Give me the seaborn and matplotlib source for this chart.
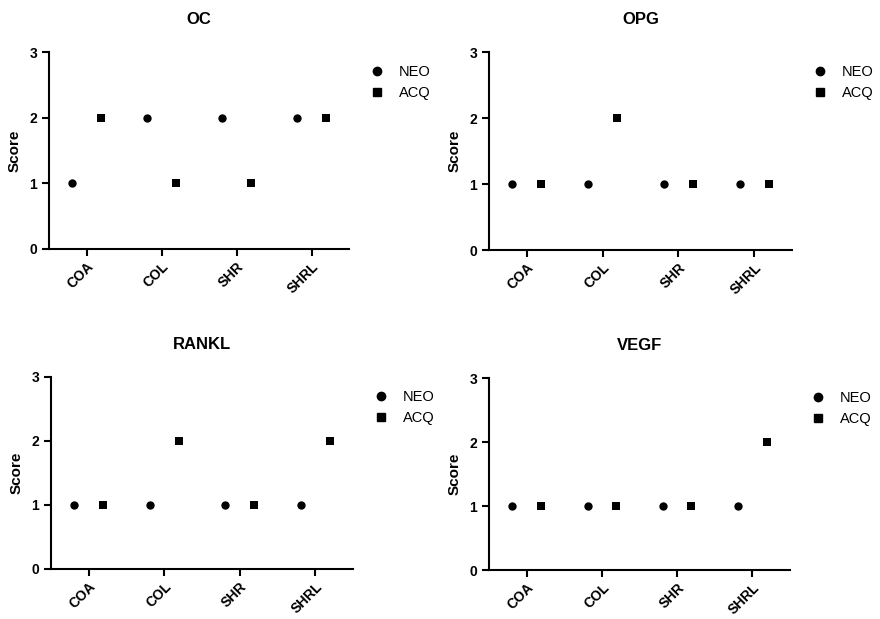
import pandas as pd
import matplotlib
matplotlib.use("Agg")
import matplotlib.pyplot as plt
from matplotlib.lines import Line2D
import seaborn as sns

groups = ["COA", "COL", "SHR", "SHRL"]
series = ["NEO", "ACQ"]
panels = ["OC", "OPG", "RANKL", "VEGF"]

oc_neo = [1, 2, 2, 2]
oc_acq = [2, 1, 1, 2]
opg_neo = [1, 1, 1, 1]
opg_acq = [1, 2, 1, 1]
rankl_neo = [1, 1, 1, 1]
rankl_acq = [1, 2, 1, 2]
vegf_neo = [1, 1, 1, 1]
vegf_acq = [1, 1, 1, 2]

values = {
    "OC": (oc_neo, oc_acq),
    "OPG": (opg_neo, opg_acq),
    "RANKL": (rankl_neo, rankl_acq),
    "VEGF": (vegf_neo, vegf_acq),
}

sns.set_theme(style="ticks")
plt.rcParams['font.family'] = ['Liberation Sans', 'DejaVu Sans']
plt.rcParams['text.color'] = 'black'
plt.rcParams['axes.labelcolor'] = 'black'

W, H = 880, 619
fig = plt.figure(figsize=(W / 100, H / 100), dpi=100)

# axes boxes in pixels: left, top, right, bottom
boxes = {
    "OC": (49, 52, 349, 249),
    "OPG": (489, 52, 792, 250),
    "RANKL": (51, 377, 353, 569),
    "VEGF": (489, 378, 790, 570),
}

for name in panels:
    l, t, r, b = boxes[name]
    ax = fig.add_axes([l / W, (H - b) / H, (r - l) / W, (b - t) / H])
    neo, acq = values[name]
    df = pd.DataFrame({
        "group": groups * 2,
        "series": ["NEO"] * 4 + ["ACQ"] * 4,
        "score": list(neo) + list(acq),
    })
    sns.pointplot(data=df, x="group", y="score", hue="series", order=groups,
                  hue_order=series, palette=["black", "black"], markers=["o", "s"],
                  linestyles="none", dodge=0.38, errorbar=None, markersize=6,
                  markeredgewidth=0, legend=False, ax=ax)
    ax.set_xlim(-0.5, 3.5)
    ax.set_ylim(0, 3)
    ax.set_yticks([0, 1, 2, 3])
    ax.set_xlabel("")
    ax.set_ylabel("Score", fontsize=11, fontweight="bold", labelpad=6)
    ax.set_title(name, fontsize=12, fontweight="bold", pad=20)
    sns.despine(ax=ax)
    for s in ["left", "bottom"]:
        ax.spines[s].set_linewidth(1.5)
        ax.spines[s].set_color("black")
    ax.tick_params(width=1.5, length=5, colors="black", labelsize=10)
    ax.tick_params(axis="x", pad=2.5)
    for lab in ax.get_xticklabels() + ax.get_yticklabels():
        lab.set_fontweight("bold")
    plt.setp(ax.get_xticklabels(), rotation=45, ha="right", rotation_mode="anchor")

    handles = [
        Line2D([], [], color="black", marker="o", linestyle="none", markersize=6),
        Line2D([], [], color="black", marker="s", linestyle="none", markersize=6),
    ]
    ax.legend(handles, series, loc="upper left", bbox_to_anchor=(1.0, 1.0),
              frameon=False, fontsize=10.5, handletextpad=0.5, labelspacing=0.5)

fig.savefig("out.png", dpi=100)
